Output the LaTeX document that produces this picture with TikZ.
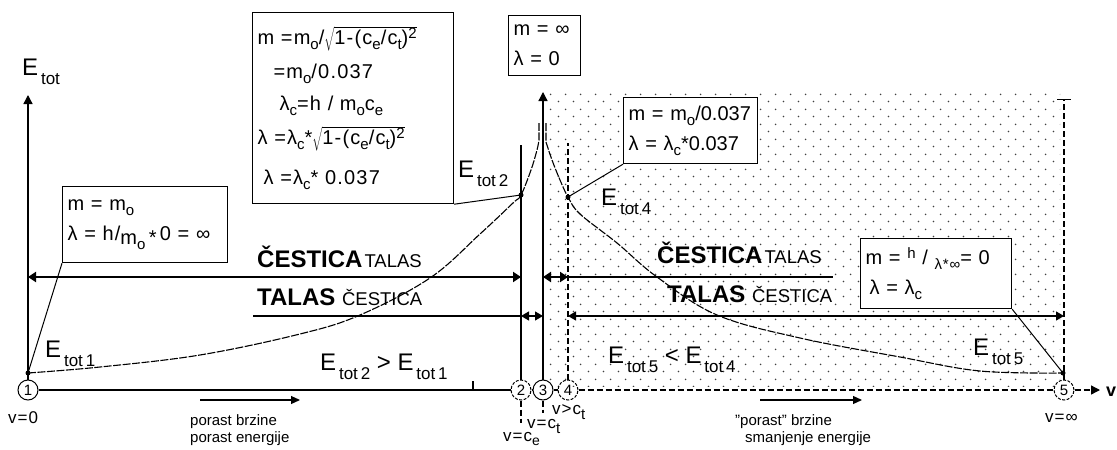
\documentclass[tikz,border=0pt]{standalone}
\usepackage{fontspec}
\setmainfont{Liberation Sans}
\newfontfamily\widefont{Liberation Sans}[LetterSpace=6]
\usetikzlibrary{arrows.meta,patterns.meta}
\tikzdeclarepattern{
  name=speckle, type=uncolored,
  bounding box={(0pt,0pt) and (15pt,15pt)},
  tile size={(15pt,15pt)},
  code={\fill (3.75pt,3.75pt) circle (0.95pt); \fill (11.25pt,11.25pt) circle (0.95pt);}
}
\newcommand{\fbig}{\fontsize{24}{28}\selectfont}
\newcommand{\fmid}{\fontsize{20}{30}\selectfont}
\newcommand{\fsml}{\fontsize{15}{17}\selectfont}
\newcommand{\subx}[1]{\raisebox{-5pt}{\fontsize{15}{15}\selectfont #1}}
\newcommand{\supx}[1]{\raisebox{6pt}{\fontsize{15}{15}\selectfont #1}}
\newcommand{\Etot}[1]{E\raisebox{-9pt}{\fontsize{17}{17}\selectfont\,tot\,#1}}
\newcommand{\parwave}{{\bfseries ČESTICA}\kern2pt{\fontsize{18.5}{18.5}\selectfont TALAS}}
\newcommand{\wavepar}{{\bfseries TALAS} {\fontsize{18.5}{18.5}\selectfont ČESTICA}}
\tikzset{
  eqb/.style={draw,line width=1.2pt,fill=white,anchor=north west,align=left,
    inner xsep=5pt,inner ysep=0pt,font=\widefont\fmid},
  num/.style={circle,draw,line width=1pt,minimum size=20pt,inner sep=0pt,font=\fsml},
  lbl/.style={inner sep=0pt,anchor=base west,font=\fsml},
  vlbl/.style={lbl,font=\widefont\fontsize{17}{17}\selectfont},
  big/.style={inner sep=0pt,anchor=base west,font=\fbig},
  ax/.style={line width=1.3pt,>={Triangle[length=9pt,width=9pt]},->},
  dsh/.style={line width=1.3pt,dash pattern=on 6pt off 3pt},
  crv/.style={line width=1.1pt,dash pattern=on 8pt off 1.5pt},
  thk/.style={line width=2.6pt,>={Triangle[length=8pt,width=10pt]},<->},
  thn/.style={line width=1.2pt,>={Triangle[length=8pt,width=9pt]},<->},
}
\begin{document}
\begin{tikzpicture}[x=1pt,y=-1pt]
\useasboundingbox (0,0) rectangle (1117,450);
% zone beyond the limit speed
\fill[pattern=speckle,pattern color=black!75] (547,92) rectangle (1060,386);

\coordinate (e1) at (28,373);
\coordinate (e2) at (521,195);
\coordinate (e4) at (568,197);
\coordinate (e5) at (1063,373);
\coordinate (etop) at (28,95);
\coordinate (mtop) at (543,92);
\coordinate (top2) at (521,145);
\coordinate (top4) at (568,143);
\coordinate (ltop) at (1064,99);
\coordinate (vend) at (1100,390);
\coordinate (rowA) at (0,277);
\coordinate (rowB) at (0,316);
\coordinate (endA) at (833,277);
\coordinate (begB) at (253,316);
\coordinate (ga) at (200,400); \coordinate (gb) at (300,400);
\coordinate (fa) at (760,400); \coordinate (fb) at (862,400);

\node[num] (c1) at (28,390) {1};
\node[num,dash pattern=on 3pt off 1.5pt] (c2) at (521,390) {2};
\node[num] (c3) at (543,390) {3};
\node[num,dash pattern=on 3pt off 1.5pt] (c4) at (568,390) {4};
\node[num,dash pattern=on 3pt off 1.5pt] (c5) at (1064,390) {5};

\draw[ax] (c1) -- (etop);
\draw[ax] (c3) -- (mtop);
\draw[line width=1.3pt] (c2) -- (top2);
\draw[dsh] (c4) -- (top4);
\draw[dsh,-{Bar[width=14pt]}] (c5) -- (ltop);
\draw[line width=1.3pt] (c1) -- (c2) (c2) -- (c3) (c3) -- (c4);
\draw[dsh] (c4) -- (c5);
\draw[dsh,>={Triangle[length=9pt,width=9pt]},->] (c5) -- (vend);
\draw[line width=1.3pt] (473,390) -- (473,381);
\draw[dsh] (c2.south) -- ++(0,22);
\draw[dsh] (c3.south) -- ++(0,12);

% energy curve
\draw[crv] plot[smooth,tension=0.6] coordinates {(28,373) (100,367) (200,355)
  (300,334) (360,315) (430,278) (480,234) (513,203) (521,195) (531,170)
  (537,150) (539,140)} -- (539,123);
\draw[crv] (546,123) -- plot[smooth,tension=0.6] coordinates {(546,142)
  (552,160) (560,180) (568,197) (580,214) (617,243) (657,277) (717,315)
  (800,338) (900,357) (980,371) (1063,373)};
\fill (e1) circle (2.5pt) (e2) circle (2.5pt) (e4) circle (2.5pt) (e5) circle (2.5pt);

\draw[thk] (c1 |- rowA) -- (c2 |- rowA);
\draw[thk] (c3 |- rowA) -- (c4 |- rowA);
\draw[line width=2.6pt] (c4 |- rowA) -- (endA);
\draw[line width=1.2pt] (begB) -- (c2 |- rowB);
\draw[thn] (c2 |- rowB) -- (c3 |- rowB);
\draw[thn] (c4 |- rowB) -- (c5 |- rowB);

\node[eqb,minimum height=76pt,text width=155pt] (rest) at (62,186)
  {m = m\subx{o}\\λ = h/\raisebox{-4pt}{m\subx{o}\,*}\,0 = ∞};
\node[eqb,minimum height=191pt,text width=191pt] (crit) at (252,12)
  {m =m\subx{o}/$\sqrt{\mbox{1-(c\subx{e}/c\subx{t})\supx{2}}}$\\[4pt]
   \hspace*{16pt}=m\subx{o}/0.037\\[2pt]
   \hspace*{22pt}λ\subx{c}=h / m\subx{o}c\subx{e}\\[4pt]
   λ =λ\subx{c}*$\sqrt{\mbox{1-(c\subx{e}/c\subx{t})\supx{2}}}$\\[10pt]
   \hspace*{6pt}λ =λ\subx{c}* 0.037};
\node[eqb,minimum height=60pt,text width=62pt] (inf) at (508,15) {m = ∞\\λ = 0};
\node[eqb,minimum height=66pt,text width=124pt,font=\normalfont\fmid] (past) at (623,97)
  {m = m\subx{o}/0.037\\λ = λ\subx{c}*0.037};
\node[eqb,minimum height=70pt,text width=141pt] (lim) at (860,238)
  {m = \supx{h} / \subx{λ*∞}= 0\\\hspace*{4pt}λ = λ\subx{c}};

\draw[line width=1pt] (rest.south west) -- (e1);
\draw[line width=1pt] (crit.south east) -- (e2);
\draw[line width=1pt] (past.south west) -- (e4);
\draw[line width=1pt] (lim.south east) -- (e5);

\node[big] (et) at (22,75) {\Etot{}};
\node[big] (et1) at (45,357) {\Etot{1}};
\node[big] (et2) at (458,177) {\Etot{2}};
\node[big] (et4) at (601,205) {\Etot{4}};
\node[big] (et5) at (973,355) {\Etot{5}};
\node[big] (cmp1) at (320,370) {\Etot{2} > \Etot{1}};
\node[big] (cmp2) at (608,363) {\Etot{5} < \Etot{4}};
\node[big] (pw1) at (257,267) {\parwave};
\node[big] (wp1) at (257,305) {\wavepar};
\node[big] (pw2) at (657,263) {\parwave};
\node[big] (wp2) at (667,302) {\wavepar};

\node[vlbl] (v0) at (8,423) {v=0};
\node[vlbl] (vinf) at (1045,422) {v=∞};
\node[vlbl] (vce) at (503,441) {v=c\raisebox{-4pt}{\fontsize{14}{14}\selectfont e}};
\node[vlbl] (vct) at (527,428) {v=c\subx{t}};
\node[vlbl] (vgt) at (552,414) {v>c\subx{t}};
\node[lbl] (vax) at (1106,396) {\fontsize{18}{18}\selectfont\bfseries v};

\draw[line width=1.2pt,>={Triangle[length=9pt,width=8pt]},->] (ga) -- (gb);
\draw[line width=1.2pt,>={Triangle[length=9pt,width=8pt]},->] (fa) -- (fb);
\node[lbl,anchor=north west,align=left] (grow) at (190,414)
  {porast brzine\\porast energije};
\node[lbl,anchor=north west,align=left] (fall) at (735,414)
  {"porast" brzine\\\hspace*{10pt}smanjenje energije};
\end{tikzpicture}
\end{document}
